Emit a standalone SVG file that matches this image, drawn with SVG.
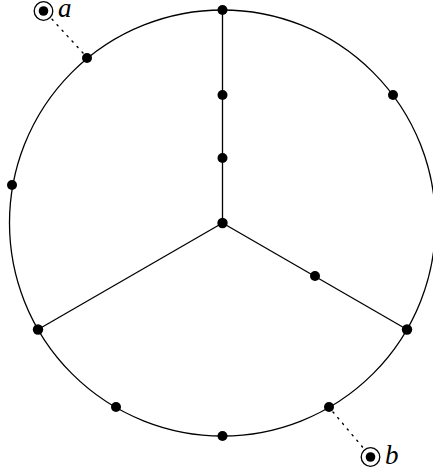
<svg xmlns="http://www.w3.org/2000/svg" width="433" height="473" viewBox="0 0 433 473">
<style>
.e{stroke:#000;stroke-width:1.3;fill:none}
.d{stroke:#000;stroke-width:1.4;fill:none;stroke-dasharray:1.4 6;stroke-linecap:round}
.n{fill:#000}
.lbl{font-family:"Liberation Serif",serif;font-style:italic;font-size:27px;fill:#000}
</style>
<rect width="433" height="473" fill="#fff"/>
<g id="connectors">
<circle class="e" cx="222.5" cy="223" r="213"/>
<line class="e" x1="222.5" y1="223" x2="222.5" y2="10"/>
<line class="e" x1="222.5" y1="223" x2="38" y2="329.5"/>
<line class="e" x1="222.5" y1="223" x2="407" y2="329.5"/>
<line class="d" x1="83" y1="53" x2="50" y2="17"/>
<line class="d" x1="333" y1="412" x2="365" y2="450"/>
</g>
<g id="n-top"><circle class="n" cx="222.5" cy="10" r="5"/></g>
<g id="n-s1"><circle class="n" cx="222.5" cy="95" r="5"/></g>
<g id="n-s2"><circle class="n" cx="222.5" cy="158" r="5"/></g>
<g id="n-center"><circle class="n" cx="222.5" cy="223" r="5.2"/></g>
<g id="n-right-spoke"><circle class="n" cx="315" cy="276" r="5"/></g>
<g id="n-lower-left"><circle class="n" cx="38" cy="329.5" r="5.2"/></g>
<g id="n-lower-right"><circle class="n" cx="407" cy="329.5" r="5.2"/></g>
<g id="n-top-left"><circle class="n" cx="87" cy="58" r="5"/></g>
<g id="n-right"><circle class="n" cx="393" cy="95" r="5"/></g>
<g id="n-left"><circle class="n" cx="12" cy="185" r="5"/></g>
<g id="n-bottom"><circle class="n" cx="222.5" cy="436" r="5"/></g>
<g id="n-bottom-left"><circle class="n" cx="116" cy="407" r="5"/></g>
<g id="n-bottom-right"><circle class="n" cx="329" cy="407" r="5"/></g>
<g id="n-a">
<circle class="e" cx="43.5" cy="11" r="9.3"/>
<circle class="n" cx="43.5" cy="11" r="4.8"/>
<text class="lbl" x="58" y="17">a</text>
</g>
<g id="n-b">
<circle class="e" cx="370.5" cy="457" r="9.3"/>
<circle class="n" cx="370.5" cy="457" r="4.8"/>
<text class="lbl" x="385" y="464">b</text>
</g>
</svg>
